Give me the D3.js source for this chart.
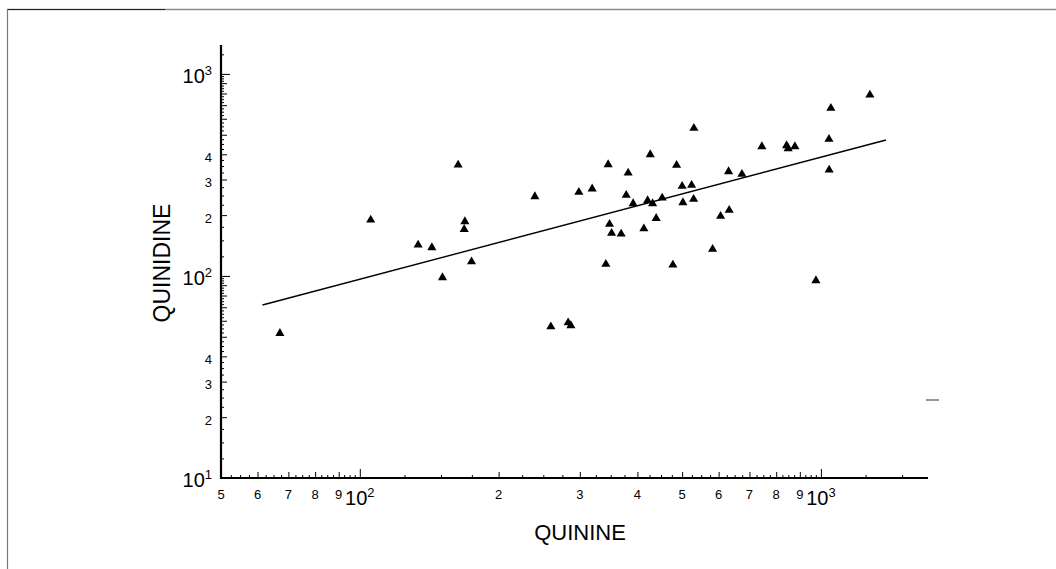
<!DOCTYPE html>
<html><head><meta charset="utf-8">
<script src="https://cdn.jsdelivr.net/npm/d3@7"></script>
<style>
body{margin:0;background:#fff}
svg{display:block}
text{font-family:"Liberation Sans",Arial,Helvetica,sans-serif;fill:#000}
</style>
</head><body>
<svg id="c" width="1056" height="569"></svg>
<script>
// ---- data ----
const quinine = [67.1,105.6,133.8,143.3,151.1,163.4,169.0,168.4,174.7,239.7,
  259.6,283.0,286.9,298.6,319.1,345.6,381.9,426.4,486.4,530.3,
  500.1,524.3,378.2,391.5,420.9,431.5,452.6,502.0,529.6,439.3,
  413.1,348.0,351.6,368.8,630.6,674.1,632.5,606.0,582.2,341.7,
  477.5,1277,1051,1041,744.7,842.5,849.2,878.2,1042,975.4];
const quinidine = [52.0,189.3,142.4,138.1,98.1,354.3,185.8,170.2,117.7,247.0,
  56.1,58.7,56.8,259.7,269.7,355.6,323.6,398.6,353.2,538.5,
  278.0,281.2,250.9,228.0,235.9,228.0,243.3,230.7,239.8,193.0,
  171.4,180.3,162.7,161.4,328.4,318.8,211.5,197.5,135.6,114.3,
  113.4,787.0,676.4,475.2,436.6,441.6,426.8,436.6,334.8,94.8];
const fitX = [61.5, 1384];
const fitY = [71.8, 471];

const xDecades = [100, 1000];
const xDecadeLabels = ["10", "10"];
const xDecadeExps = ["2", "3"];
const xDigitValues = [50,60,70,80,90,200,300,400,500,600,700,800,900];
const xDigitLabels = ["5","6","7","8","9","2","3","4","5","6","7","8","9"];
const yDecades = [10, 100, 1000];
const yDecadeExps = ["1", "2", "3"];
const yDigitValues = [20,30,40,200,300,400];
const yDigitLabels = ["2","3","4","2","3","4"];

const xTitle = "QUININE";
const yTitle = "QUINIDINE";

// ---- layout ----
const svg = d3.select("#c");
const x = d3.scaleLog().domain([50, 1707]).range([221, 928]);
const y = d3.scaleLog().domain([10, 1390]).range([478, 45]);

// frame
svg.append("line").attr("x1",7).attr("x2",1056).attr("y1",9.5).attr("y2",9.5)
  .attr("stroke","#8a8a8a").attr("stroke-width",1.5);
svg.append("line").attr("x1",7).attr("x2",165).attr("y1",9.5).attr("y2",9.5)
  .attr("stroke","#222").attr("stroke-width",1.2);
svg.append("line").attr("x1",7.5).attr("x2",7.5).attr("y1",9).attr("y2",569)
  .attr("stroke","#777").attr("stroke-width",1.2);

// tick value sets (quarter steps inside each decade)
function tickSets(scale){
  const [a,b] = scale.domain();
  const dec=[], integ=[], quarter=[];
  for (let d = 10; d <= 1000; d *= 10) {
    for (let m = 1; m < 10; m += 0.25) {
      const v = m * d;
      if (v < a - 1e-9 || v > b + 1e-9) continue;
      if (m === 1) dec.push(v);
      else if (Number.isInteger(m)) integ.push(v);
      else quarter.push(v);
    }
  }
  return {dec, integ, quarter};
}
const xt = tickSets(x), yt = tickSets(y);

function styleAxis(g){
  g.selectAll(".tick line").attr("stroke","#000").attr("stroke-width",1);
  g.selectAll(".tick text").remove();
}
// x axis ticks (pointing up)
[[xt.quarter,3],[xt.integ,6],[xt.dec,9]].forEach(([vals,len])=>{
  const g = svg.append("g").attr("transform","translate(0,478)")
    .call(d3.axisBottom(x).tickValues(vals).tickSize(-len).tickSizeOuter(0).tickFormat(""));
  g.select(".domain").remove();
  styleAxis(g);
});
// y axis ticks (pointing right)
[[yt.quarter,3],[yt.integ,6],[yt.dec,9]].forEach(([vals,len])=>{
  const g = svg.append("g").attr("transform","translate(221,0)")
    .call(d3.axisLeft(y).tickValues(vals).tickSize(-len).tickSizeOuter(0).tickFormat(""));
  g.select(".domain").remove();
  styleAxis(g);
});
// axis lines
svg.append("line").attr("x1",x.range()[0]-1).attr("x2",x.range()[1]).attr("y1",478).attr("y2",478)
  .attr("stroke","#000").attr("stroke-width",2.2);
svg.append("line").attr("x1",221).attr("x2",221).attr("y1",y.range()[1]).attr("y2",479)
  .attr("stroke","#000").attr("stroke-width",2.2);

// x labels
svg.append("g").selectAll("text").data(xDigitValues).join("text")
  .attr("x",d=>x(d)).attr("y",499).attr("text-anchor","middle").attr("font-size",13)
  .text((d,i)=>xDigitLabels[i]);
xDecades.forEach((v,i)=>{
  const t = svg.append("text").attr("x",x(v)).attr("y",505).attr("text-anchor","middle");
  t.append("tspan").attr("font-size",20).text(xDecadeLabels[i]);
  t.append("tspan").attr("font-size",13).attr("dy",-8).text(xDecadeExps[i]);
});
// y labels
svg.append("g").selectAll("text").data(yDigitValues).join("text")
  .attr("x",212).attr("y",d=>y(d)+7.5).attr("text-anchor","end").attr("font-size",13)
  .text((d,i)=>yDigitLabels[i]);
yDecades.forEach((v,i)=>{
  const t = svg.append("text").attr("x",212).attr("y",y(v)+9).attr("text-anchor","end");
  t.append("tspan").attr("font-size",20).text("10");
  t.append("tspan").attr("font-size",13).attr("dy",-8).text(yDecadeExps[i]);
});

// titles
svg.append("text").attr("x",580).attr("y",540).attr("text-anchor","middle")
  .attr("font-size",22).text(xTitle);
svg.append("text").attr("transform","translate(170,263) rotate(-90)")
  .attr("text-anchor","middle").attr("font-size",23).text(yTitle);

// regression line
svg.append("path")
  .datum(fitX.map((v,i)=>[v,fitY[i]]))
  .attr("d", d3.line().x(d=>x(d[0])).y(d=>y(d[1])))
  .attr("fill","none").attr("stroke","#000").attr("stroke-width",1.4);

// points
const tri = d3.symbol().type(d3.symbolTriangle).size(36);
svg.append("g").selectAll("path").data(quinine).join("path")
  .attr("transform",(d,i)=>`translate(${x(d)},${y(quinidine[i])})`)
  .attr("d",tri).attr("fill","#000");

// small stray mark at right
svg.append("line").attr("x1",926).attr("x2",939).attr("y1",400).attr("y2",400)
  .attr("stroke","#555").attr("stroke-width",1.2);
</script>
</body></html>
